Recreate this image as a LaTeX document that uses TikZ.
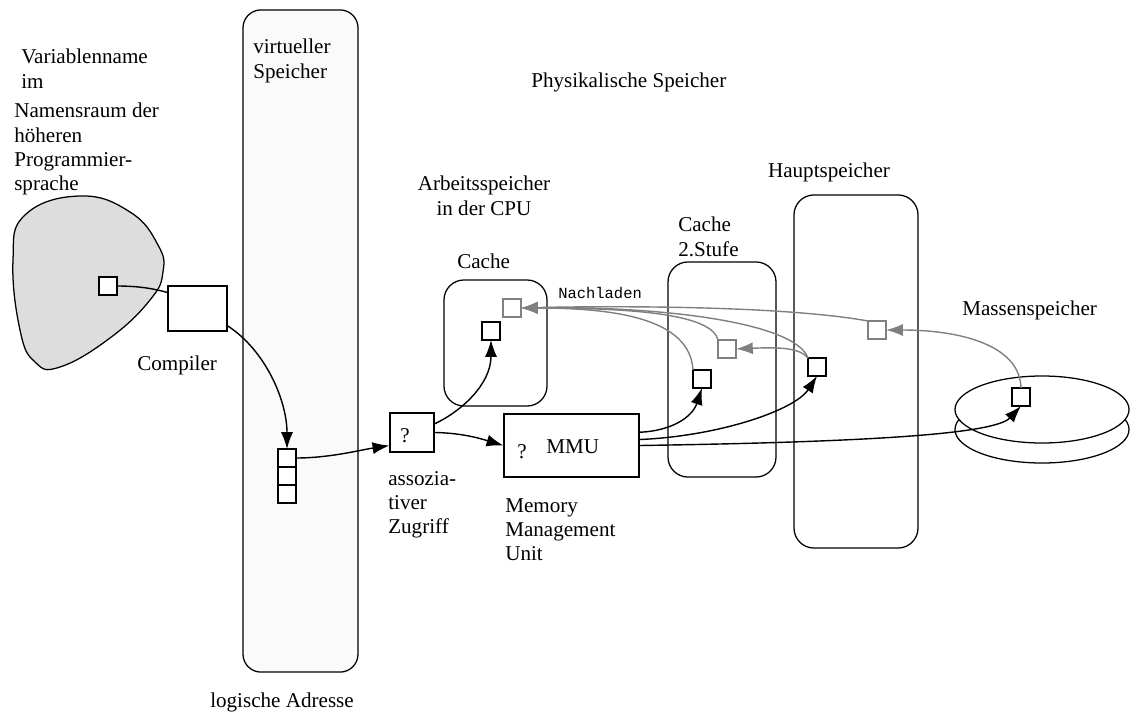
\documentclass[tikz,border=0pt]{standalone}
\usepackage{fontspec}
\setmainfont{Liberation Serif}
\setmonofont{Liberation Mono}
\usetikzlibrary{arrows.meta,positioning,shapes.geometric}
\definecolor{blobgray}{RGB}{221,221,221}
\definecolor{virtgray}{RGB}{250,250,250}
\definecolor{reload}{RGB}{128,128,128}

\begin{document}
\begin{tikzpicture}[x=0.025cm,y=-0.025cm,
  lbl/.style={inner sep=0pt,align=left,font=\fontsize{15}{17.3}\selectfont},
  box/.style={draw,line width=0.9pt,fill=white,inner sep=0pt},
  membox/.style={box,rounded corners=0.5cm},
  sq/.style={box,minimum size=0.45cm,outer sep=0pt},
  gsq/.style={sq,draw=reload},
  disk/.style={draw,line width=0.9pt,fill=white,ellipse,minimum width=4.35cm,minimum height=1.675cm},
  fetch/.style={line width=1pt,-{Latex[length=4.2mm,width=3mm]}},
  reloadln/.style={draw=reload,line width=1pt,-{Latex[length=4.2mm,width=3mm]}}]
\useasboundingbox (0,0) rectangle (1130,716);

% memory areas
\node[membox,fill=virtgray,rounded corners=0.45cm,minimum width=2.875cm,minimum height=16.55cm] (virt) at (300.5,341) {};
\node[membox,minimum width=2.575cm,minimum height=3.15cm] (l1) at (495.5,343) {};
\node[membox,minimum width=2.7cm,minimum height=5.375cm] (l2) at (722,369.5) {};
\node[membox,minimum width=3.1cm,minimum height=8.825cm] (haupt) at (856,371.5) {};
\node[disk] (diskb) at (1042,429.5) {};
\node[disk] (diskt) at (1042,409.5) {};

% name space of the language
\draw[fill=blobgray,line width=0.9pt] plot[smooth cycle,tension=0.75] coordinates
  {(80,196) (130,212) (158,245) (163,272) (150,300) (110,338) (60,367) (35,362) (20,330) (13,260) (25,215)};

% boxes
\node[box,minimum width=1.475cm,minimum height=1.125cm] (compiler) at (197.5,308.5) {};
\node[box,minimum width=1.1cm,minimum height=0.975cm] (assoc) at (412,432.5) {};
\node[box,minimum width=3.375cm,minimum height=1.575cm] (mmu) at (571.5,445.5) {};

% cells
\node[sq] (var) at (108,286) {};
\node[sq] (s1) at (287,458) {};
\node[sq,below=0pt of s1] (s2) {};
\node[sq,below=0pt of s2] (s3) {};
\node[gsq] (l1g) at (512,308) {};
\node[sq] (l1b) at (491,331) {};
\node[gsq] (l2g) at (727,349) {};
\node[sq] (l2b) at (702,379) {};
\node[gsq] (hg) at (877,330) {};
\node[sq] (hb) at (817,367) {};
\node[sq] (ds) at (1021,397) {};

% texts
\node[lbl,anchor=north west] at (21,49) {Variablenname\\im};
\node[lbl,anchor=north west] at (14,103) {Namensraum der\\höheren\\Programmier-\\sprache};
\node[lbl,anchor=north west] at (253,39) {virtueller\\Speicher};
\node[lbl,anchor=base west] at (531,88) {Physikalische Speicher};
\node[lbl,anchor=base west] at (137,370) {Compiler};
\node[lbl,anchor=north,align=center] at (484,176) {Arbeitsspeicher\\in der CPU};
\node[lbl,anchor=base west] at (457,268) {Cache};
\node[lbl,anchor=north west] at (678,217) {Cache\\2.Stufe};
\node[lbl,anchor=base] at (829,177) {Hauptspeicher};
\node[lbl,anchor=base west] at (962,315) {Massenspeicher};
\node[lbl,anchor=base west] at (400,442) {?};
\node[lbl,anchor=base west] at (517,458) {?};
\node[lbl,anchor=base west] at (546,453) {MMU};
\node[lbl,anchor=north west] at (388,471) {assozia-\\tiver\\Zugriff};
\node[lbl,anchor=north west] at (505,498) {Memory\\Management\\Unit};
\node[lbl,anchor=base west] at (210,707) {logische Adresse};
\node[inner sep=0pt,anchor=base west,font=\ttfamily\fontsize{11}{13}\selectfont] at (558,298) {Nachladen};

% address path
\draw[line width=1pt] (var.east) .. controls (140,286) and (155,289) .. (compiler.152);
\draw[fetch] (compiler.-30) .. controls (265,350) and (287,400) .. (s1.north);
\draw[fetch] (s1.east) .. controls (330,458) and (360,450) .. (assoc.210);
\draw[fetch] (assoc.21) .. controls (460,412) and (491,385) .. (l1b.south);
\draw[fetch] (assoc.east) .. controls (465,433) and (485,440) .. (mmu.west);
\draw[fetch] (mmu.11) .. controls (670,431) and (692,418) .. (l2b.south);
\draw[fetch] (mmu.5) .. controls (720,436) and (795,410) .. (hb.south);
\draw[fetch] (mmu.east) .. controls (870,442) and (995,434) .. (ds.south);

% reloading
\draw[reloadln] (l2b.north west) .. controls (690,320) and (620,308) .. (l1g.east);
\draw[reloadln] (l2g.north west) .. controls (712,315) and (640,308) .. (l1g.east);
\draw[reloadln] (hb.north west) .. controls (795,322) and (660,306) .. (l1g.east);
\draw[reloadln] (hg.north west) .. controls (780,305) and (600,306) .. (l1g.east);
\draw[reloadln] (hb.north west) .. controls (800,348) and (780,347) .. (l2g.east);
\draw[reloadln] (ds.north) .. controls (1020,345) and (960,330) .. (hg.east);
\end{tikzpicture}
\end{document}
